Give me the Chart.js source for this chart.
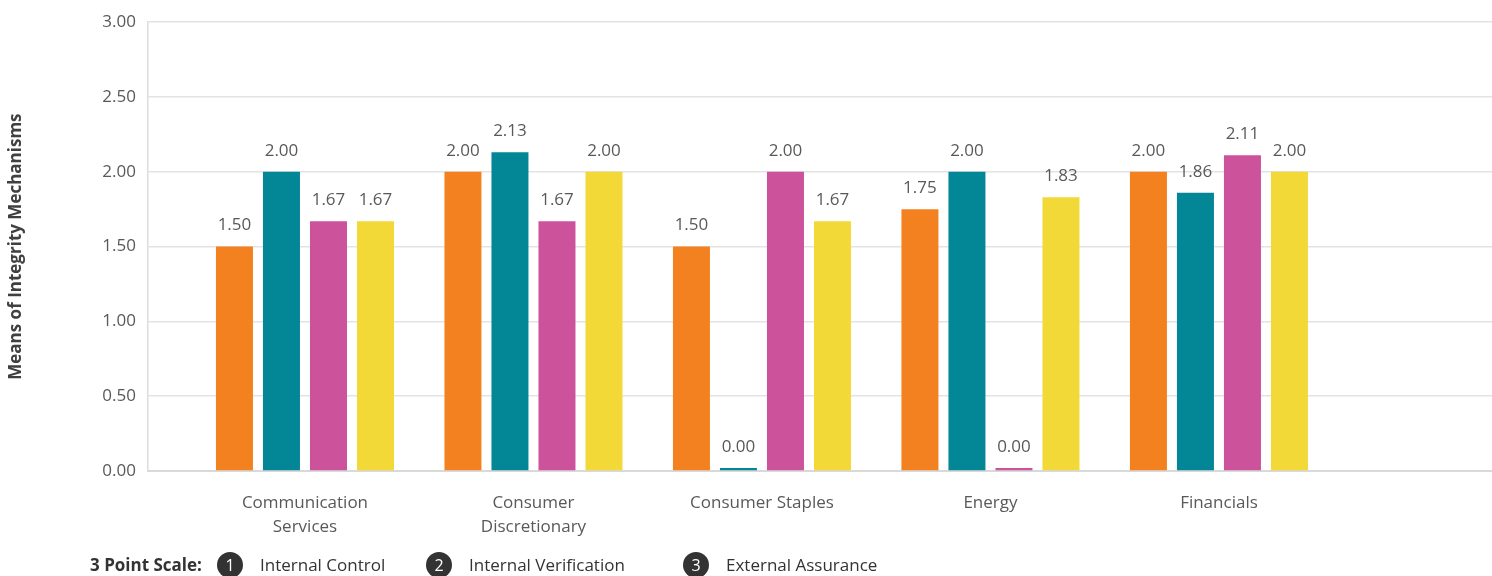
<!DOCTYPE html>
<html>
<head>
<meta charset="utf-8">
<script src="https://cdn.jsdelivr.net/npm/chart.js@4/dist/chart.umd.min.js"></script>
<style>
  html, body { margin: 0; padding: 0; background: #fff; }
  #wrap { position: relative; width: 1492px; height: 576px; overflow: hidden; font-family: "Open Sans", sans-serif; }
  #chart { position: absolute; left: 0; top: 0; }
  .key { position: absolute; top: 552px; height: 26px; line-height: 26px; font-size: 17px; color: #333; white-space: nowrap; }
  .key.title { font-weight: bold; }
  .dot { position: absolute; top: 552px; width: 26px; height: 26px; border-radius: 50%; background: #333; color: #fff;
         font-size: 16px; line-height: 26px; text-align: center; }
</style>
</head>
<body>
<div id="wrap">
  <canvas id="chart" width="1492" height="576"></canvas>
  <div class="key title" style="left:90px">3 Point Scale:</div>
  <div class="dot" style="left:217px">1</div>
  <div class="key" style="left:260px">Internal Control</div>
  <div class="dot" style="left:426px">2</div>
  <div class="key" style="left:469px">Internal Verification</div>
  <div class="dot" style="left:683px">3</div>
  <div class="key" style="left:726px">External Assurance</div>
</div>
<script>
// Sectors along the x axis (line breaks mark wrapped labels)
const categories = ['Communication\nServices', 'Consumer\nDiscretionary', 'Consumer Staples', 'Energy', 'Financials'];

// Mean score per sector for each of the four groups
const seriesA = [1.50, 2.00, 1.50, 1.75, 2.00];
const seriesB = [2.00, 2.13, 0.00, 2.00, 1.86];
const seriesC = [1.67, 1.67, 2.00, 0.00, 2.11];
const seriesD = [1.67, 2.00, 1.67, 1.83, 2.00];

// Value axis ticks
const yTicks = [0, 0.5, 1, 1.5, 2, 2.5, 3];

const colors = ['#F48120', '#038797', '#CC529C', '#F3D937'];
const allSeries = [seriesA, seriesB, seriesC, seriesD];
const seriesNames = ['Group A', 'Group B', 'Group C', 'Group D'];

const FONT = '"Open Sans", sans-serif';
const TEXT = '#595959';

// Prints each bar's value above it
const valueLabels = {
  id: 'valueLabels',
  afterDatasetsDraw(chart) {
    const ctx = chart.ctx;
    ctx.save();
    ctx.font = '17px ' + FONT;
    ctx.fillStyle = TEXT;
    ctx.textAlign = 'center';
    ctx.textBaseline = 'middle';
    chart.data.datasets.forEach((ds, di) => {
      const meta = chart.getDatasetMeta(di);
      meta.data.forEach((bar, i) => {
        ctx.fillText(ds.data[i].y.toFixed(2), bar.x, bar.y - 21);
      });
    });
    ctx.restore();
  }
};

const datasets = allSeries.map((vals, s) => ({
  label: seriesNames[s],
  data: vals.map((v, i) => ({ x: i, y: v })),
  backgroundColor: colors[s],
  borderWidth: 0,
  minBarLength: 3,
  categoryPercentage: 0.823,
  barPercentage: 0.787
}));

new Chart(document.getElementById('chart'), {
  type: 'bar',
  data: { datasets },
  plugins: [valueLabels],
  options: {
    responsive: false,
    animation: false,
    layout: { padding: { left: 4, top: 19, right: 0, bottom: 0 } },
    plugins: { legend: { display: false }, tooltip: { enabled: false } },
    scales: {
      x: {
        type: 'linear',
        offset: false,
        bounds: 'data',
        min: -0.687,
        max: 5.195,
        grid: { display: false, drawTicks: false },
        border: { display: true, color: '#d9d9d9', width: 2 },
        afterBuildTicks: (scale) => { scale.ticks = categories.map((c, i) => ({ value: i })); },
        afterFit: (scale) => { scale.height = 105; scale.paddingLeft = 0; scale.paddingRight = 0; },
        ticks: {
          autoSkip: false,
          maxRotation: 0,
          minRotation: 0,
          padding: 20,
          color: TEXT,
          font: { family: FONT, size: 17, lineHeight: 1.42 },
          callback: (v) => (categories[v] !== undefined ? categories[v].split('\n') : '')
        }
      },
      y: {
        min: 0,
        max: 3,
        afterBuildTicks: (scale) => { scale.ticks = yTicks.map(v => ({ value: v })); },
        afterFit: (scale) => { scale.width = 144; },
        grid: { color: '#e3e3e3', lineWidth: 1.5, drawTicks: false },
        border: { display: true, color: '#dcdcdc', width: 1.5 },
        ticks: {
          padding: 12,
          color: TEXT,
          font: { family: FONT, size: 17 },
          callback: (v) => Number(v).toFixed(2)
        },
        title: {
          display: true,
          text: 'Means of Integrity Mechanisms',
          color: '#404040',
          padding: { top: 2, bottom: 4 },
          font: { family: FONT, size: 17, weight: 'bold' }
        }
      }
    }
  }
});
</script>
</body>
</html>
